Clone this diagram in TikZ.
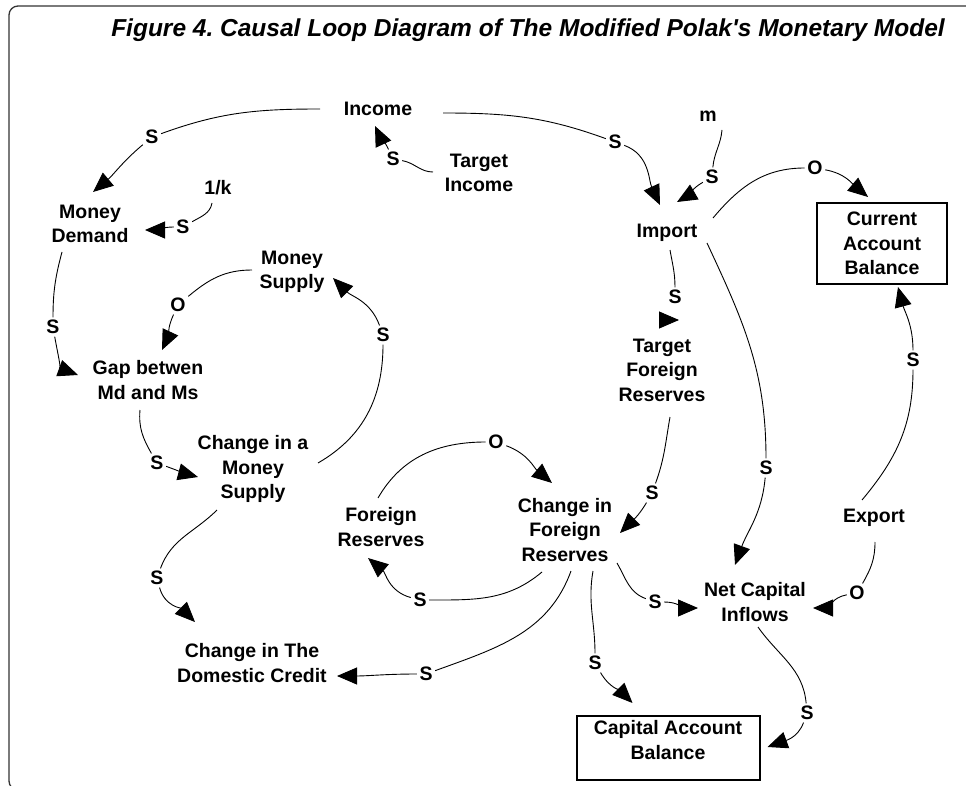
\documentclass[tikz,border=0pt]{standalone}
\usepackage{fontspec}
\setmainfont{Liberation Sans}
\newfontfamily\titlefont{Liberation Sans}[Ligatures=TeXOff]
\usetikzlibrary{arrows.meta,calc}
\frenchspacing
\begin{document}
\begin{tikzpicture}[x=1pt,y=-1pt,
  lbl/.style={font=\bfseries\fontsize{19.5}{24.5}\selectfont, align=center, inner sep=1pt},
  pol/.style={font=\bfseries\fontsize{19.5}{24.5}\selectfont, inner sep=2.5pt},
  link/.style={line width=0.9pt},
  arr/.style={line width=0.9pt,-{Triangle[length=20pt,width=17pt]}},
  boxed/.style={draw, line width=1.2pt}
]
\useasboundingbox (0,0) rectangle (966,786);
\draw[line width=1.3pt, black!80, rounded corners=9pt] (970,6) -- (9,6) -- (9,790) -- (30,790);

\node[font=\titlefont\bfseries\itshape\fontsize{24.5}{28}\selectfont, inner sep=0pt] (title) at (528,30) {Figure 4. Causal Loop Diagram of The Modified Polak's Monetary Model};

% variables
\node[lbl] (income) at (378,109) {Income};
\node[lbl] (tinc) at (479,173) {Target\\Income};
\node[lbl] (mdem) at (90,224) {Money\\Demand};
\node[lbl] (onek) at (218,188) {1/k};
\node[lbl] (msup) at (292,272) {Money\\Supply};
\node[lbl] (gap) at (148,380) {Gap betwen\\Md and Ms};
\node[lbl] (cms) at (253,469) {Change in a\\Money\\Supply};
\node[lbl] (cdc) at (252,663) {Change in The\\Domestic Credit};
\node[lbl] (fres) at (381,527) {Foreign\\Reserves};
\node[lbl] (cfr) at (565,530) {Change in\\Foreign\\Reserves};
\node[lbl] (imp) at (667,233) {Import};
\node[lbl] (m) at (708,116) {m};
\node[lbl, boxed, minimum width=130pt, minimum height=81pt] (cab) at (882,243.5) {Current\\Account\\Balance};
\node[lbl] (tfr) at (662,370) {Target\\Foreign\\Reserves};
\node[lbl] (ncf) at (755,602) {Net Capital\\Inflows};
\node[lbl] (exp) at (874,518) {Export};
\node[boxed, minimum width=183pt, minimum height=64pt] (kab) at (668.5,748) {};
\node[lbl] (kabt) at (668,740) {Capital Account\\Balance};

% polarity labels
\node[pol] (s1) at (152,137) {S};
\node[pol] (s2) at (393,159) {S};
\node[pol] (s3) at (183,227) {S};
\node[pol] (s4) at (53,327) {S};
\node[pol] (o1) at (178,305) {O};
\node[pol] (s5) at (157,463) {S};
\node[pol] (s6) at (383,335) {S};
\node[pol] (s7) at (157,578) {S};
\node[pol] (o2) at (496,442) {O};
\node[pol] (s8) at (420,600) {S};
\node[pol] (s9) at (426,674) {S};
\node[pol] (s10) at (595,663) {S};
\node[pol] (s11) at (655,602) {S};
\node[pol] (o3) at (857,593) {O};
\node[pol] (s12) at (913,360) {S};
\node[pol] (o4) at (815,168) {O};
\node[pol] (s13) at (615,142) {S};
\node[pol] (s14) at (712,177) {S};
\node[pol] (s15) at (675,297) {S};
\node[pol] (s16) at (652,493) {S};
\node[pol] (s17) at (766,468) {S};
\node[pol] (s18) at (807,713) {S};

% 1 Income -> Money Demand
\draw[link] ($(income)+(-58,0)$) to[out=180,in=20] (s1);
\draw[arr] (s1) to[out=220,in=40] ($(mdem)+(3,-32)$);
% 2 Target Income -> Income
\draw[link] ($(tinc)+(-46,-1)$) to[out=180,in=-10] (s2);
\draw[arr] (s2) to[out=115,in=295] ($(income)+(-3,17)$);
% 3 1/k -> Money Demand
\draw[link] ($(onek)+(-6,15)$) to[out=260,in=30] (s3);
\draw[arr] (s3) to[out=180,in=0] ($(mdem)+(55,6)$);
% 4 Money Demand -> Gap
\draw[link] ($(mdem)+(-28,28)$) to[out=255,in=90] (s4);
\draw[arr] (s4) to[out=280,in=160] ($(gap)+(-70,-5)$);
% 5 Money Supply -> Gap
\draw[link] ($(msup)+(-40,-2)$) to[out=180,in=40] (o1);
\draw[arr] (o1) to[out=245,in=65] ($(gap)+(14,-30)$);
% 6 Gap -> Change in MS
\draw[link] ($(gap)+(-8,30)$) to[out=265,in=120] (s5);
\draw[arr] (s5) to[out=340,in=165] ($(cms)+(-55,8)$);
% 7 Change in MS -> Money Supply
\draw[link] ($(cms)+(65,-6)$) to[out=30,in=270] (s6);
\draw[arr] (s6) to[out=110,in=315] ($(msup)+(41,6)$);
% 8 Change in MS -> Domestic credit
\draw[link] ($(cms)+(-36,41)$) to[out=225,in=70] (s7);
\draw[arr] (s7) to[out=285,in=135] ($(cdc)+(-57,-41)$);
% 9 Foreign Reserves -> Change in FR
\draw[link] ($(fres)+(-3,-29)$) to[out=60,in=180] (o2);
\draw[arr] (o2) to[out=340,in=140] ($(cfr)+(-13,-47)$);
% 10 Change in FR -> Foreign Reserves
\draw[link] ($(cfr)+(-23,42)$) to[out=220,in=0] (s8);
\draw[arr] (s8) to[out=165,in=320] ($(fres)+(-13,31)$);
% 11 Change in FR -> Domestic credit
\draw[link] ($(cfr)+(6,41)$) to[out=250,in=20] (s9);
\draw[arr] (s9) to[out=180,in=0] ($(cdc)+(85,13)$);
% 12 Change in FR -> Capital account
\draw[link] ($(cfr)+(28,41)$) to[out=260,in=90] (s10);
\draw[arr] (s10) to[out=300,in=135] ($(kab)+(-36,-45)$);
% 13 Change in FR -> Net capital inflows
\draw[link] ($(cfr)+(52,33)$) to[out=300,in=160] (s11);
\draw[arr] (s11) to[out=0,in=180] ($(ncf)+(-57,6)$);
% 14 Export -> Net capital inflows
\draw[link] ($(exp)+(1,24)$) to[out=270,in=60] (o3);
\draw[arr] (o3) to[out=190,in=0] ($(ncf)+(58,6)$);
% 15 Export -> Current account
\draw[link] ($(exp)+(-12,-18)$) to[out=50,in=270] (s12);
\draw[arr] (s12) to[out=90,in=285] ($(cab)+(16,43.5)$);
% 16 Import -> Current account
\draw[link] ($(imp)+(46,-15)$) to[out=50,in=180] (o4);
\draw[arr] (o4) to[out=350,in=140] ($(cab)+(-14,-46.5)$);
% 17 Income -> Import
\draw[link] ($(income)+(65,4)$) to[out=0,in=160] (s13);
\draw[arr] (s13) to[out=340,in=115] ($(imp)+(-7,-28)$);
% 18 m -> Import
\draw[link] ($(m)+(14,14)$) to[out=265,in=85] (s14);
\draw[arr] (s14) to[out=210,in=30] ($(imp)+(10,-31)$);
% 19 Import -> Target Foreign Reserves
\draw[link] ($(imp)+(3,17)$) to[out=280,in=90] (s15);
\draw[arr] ($(tfr)+(-3,-50)$) -- ($(tfr)+(17,-50)$);
% 20 Target FR -> Change in FR
\draw[link] ($(tfr)+(8,47)$) to[out=260,in=70] (s16);
\draw[arr] (s16) to[out=240,in=45] ($(cfr)+(55,3)$);
% 21 Import -> Net capital inflows
\draw[link] ($(imp)+(40,10)$) to[out=295,in=90] (s17);
\draw[arr] (s17) to[out=265,in=70] ($(ncf)+(-20,-37)$);
% 22 Net capital inflows -> Capital account
\draw[link] ($(ncf)+(3,25)$) to[out=305,in=95] (s18);
\draw[arr] (s18) to[out=250,in=20] ($(kab)+(99,-1)$);
\end{tikzpicture}
\end{document}
